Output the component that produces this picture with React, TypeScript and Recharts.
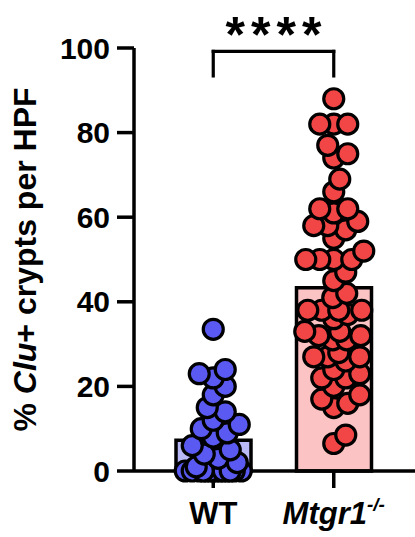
import React from 'react';
import { ComposedChart, Bar, Scatter, XAxis, YAxis, ReferenceLine, Cell } from 'recharts';

// values (% Clu+ crypts per HPF)
const groups = ['WT', 'Mtgr1'];
const wtValues = [
  33.5, 24, 23, 22, 20, 18, 15, 14, 12, 11, 10, 9, 8, 6, 5, 4, 3, 2, 1,
  0, 0, 0, 0, 0, 0, 0, 0, 0, 0, 0, 0, 0, 0,
];
const mtgr1Values = [
  88, 82, 82, 82, 77, 75, 74, 69, 66, 62, 62, 61, 59, 58, 58, 57, 55, 52,
  50, 50, 50, 50, 47, 45, 41, 42, 38, 38, 36, 38, 38, 37, 33, 32, 31, 33,
  32, 31, 27, 27, 28, 27, 26, 24, 23, 22, 22, 20, 18, 17, 16, 15, 8.5, 6.5,
];
const yTicks = [0, 20, 40, 60, 80, 100];
const significance = { label: '****', from: 1, to: 2, top: 99.2, leg: 93.4 };

const FONT = '"Liberation Sans", Arial, sans-serif';
const CHART_W = 415;
const CHART_H = 537;
const MARGIN = { top: 48, right: 0, bottom: 0, left: 0 };
const Y_AXIS_W = 134;
const X_AXIS_H = 66;
const X_PAD = { left: 19, right: 21 };
const PLOT_W = CHART_W - Y_AXIS_W;
const PLOT_H = CHART_H - MARGIN.top - X_AXIS_H;
const BAND_PX = (PLOT_W - X_PAD.left - X_PAD.right) / 2;
const Y_PX = PLOT_H / 100;
const MIN_DIST = 14;
const MAX_OFF = 30;

const mean = (v: number[]) => v.reduce((a, b) => a + b, 0) / v.length;

const barData = [
  { group: groups[0], mean: mean(wtValues) },
  { group: groups[1], mean: mean(mtgr1Values) },
];

// simple beeswarm: push each point sideways until it clears the ones already placed
function swarm(values: number[], pos: number) {
  const placed: { dx: number; py: number }[] = [];
  return [...values].sort((a, b) => a - b).map((v) => {
    const py = v * Y_PX;
    let best = 0;
    let bestD = -1;
    for (let s = 0; s <= MAX_OFF; s++) {
      for (const dx of s === 0 ? [0] : [s, -s]) {
        let d = Infinity;
        for (const p of placed) d = Math.min(d, Math.hypot(p.dx - dx, p.py - py));
        if (d > bestD) {
          bestD = d;
          best = dx;
        }
      }
      if (bestD >= MIN_DIST) break;
    }
    placed.push({ dx: best, py });
    return { x: pos + best / BAND_PX, y: v };
  });
}

const wtPoints = swarm(wtValues, 1);
const mtgr1Points = swarm(mtgr1Values, 2);

const Dot = (fill: string) => (props: any) => (
  <circle cx={props.cx} cy={props.cy} r={10} fill={fill} stroke="#000" strokeWidth={3.2} />
);

const XTick = ({ x, y, payload }: any) => {
  if (payload.value === 'WT') {
    return (
      <text x={x} y={y + 34} textAnchor="middle" fontFamily={FONT} fontWeight="bold" fontSize={31} fill="#000">
        WT
      </text>
    );
  }
  return (
    <text x={x} y={y + 34} textAnchor="middle" fontFamily={FONT} fontWeight="bold" fontStyle="italic" fontSize={31} fill="#000">
      Mtgr1
      <tspan fontSize={19} dy={-13}>-/-</tspan>
    </text>
  );
};

const YLabel = ({ viewBox }: any) => {
  const cx = viewBox.x + 36;
  const cy = viewBox.y + viewBox.height / 2;
  return (
    <text
      x={cx}
      y={cy}
      transform={`rotate(-90 ${cx} ${cy})`}
      textAnchor="middle"
      fontFamily={FONT}
      fontWeight="bold"
      fontSize={32}
      fill="#000"
    >
      {'% '}
      <tspan fontStyle="italic">Clu</tspan>
      {'+ crypts per HPF'}
    </text>
  );
};

const Stars = ({ viewBox }: any) => (
  <text
    x={viewBox.x + viewBox.width / 2 + 3}
    y={viewBox.y + 1}
    textAnchor="middle"
    fontFamily={FONT}
    fontWeight="bold"
    fontSize={50}
    letterSpacing={6}
    fill="#000"
  >
    {significance.label}
  </text>
);

export default function App() {
  return (
    <div style={{ position: 'absolute', left: 0, top: 0, fontFamily: FONT }}>
      <ComposedChart width={CHART_W} height={CHART_H} data={barData} margin={MARGIN}>
        <XAxis
          xAxisId="cat"
          dataKey="group"
          height={X_AXIS_H}
          padding={X_PAD}
          tickSize={17}
          tick={<XTick />}
          axisLine={{ stroke: '#000', strokeWidth: 3.5 }}
          tickLine={{ stroke: '#000', strokeWidth: 3.5 }}
          interval={0}
        />
        <XAxis xAxisId="num" dataKey="x" type="number" domain={[0.5, 2.5]} padding={X_PAD} allowDataOverflow hide />
        <YAxis
          type="number"
          domain={[0, 100]}
          ticks={yTicks}
          width={Y_AXIS_W}
          tickSize={17}
          tickMargin={7}
          tick={{ fill: '#000', fontSize: 30, fontWeight: 'bold', fontFamily: FONT }}
          axisLine={{ stroke: '#000', strokeWidth: 3.5 }}
          tickLine={{ stroke: '#000', strokeWidth: 3.5 }}
          label={(props: any) => <YLabel {...props} />}
        />
        <Bar xAxisId="cat" dataKey="mean" barSize={75} stroke="#000" strokeWidth={3.5} isAnimationActive={false}>
          <Cell fill="#b9b9f8" />
          <Cell fill="#fbc3c3" />
        </Bar>
        <Scatter xAxisId="num" data={wtPoints} dataKey="y" shape={Dot('#5a5af2')} isAnimationActive={false} />
        <Scatter xAxisId="num" data={mtgr1Points} dataKey="y" shape={Dot('#f24646')} isAnimationActive={false} />
        <ReferenceLine
          xAxisId="num"
          segment={[{ x: significance.from, y: significance.top }, { x: significance.to, y: significance.top }]}
          stroke="#000"
          strokeWidth={3.2}
          strokeLinecap="square"
          ifOverflow="visible"
          label={(props: any) => <Stars {...props} />}
        />
        <ReferenceLine
          xAxisId="num"
          segment={[{ x: significance.from, y: significance.top }, { x: significance.from, y: significance.leg }]}
          stroke="#000"
          strokeWidth={3.2}
          strokeLinecap="square"
          ifOverflow="visible"
        />
        <ReferenceLine
          xAxisId="num"
          segment={[{ x: significance.to, y: significance.top }, { x: significance.to, y: significance.leg }]}
          stroke="#000"
          strokeWidth={3.2}
          strokeLinecap="square"
          ifOverflow="visible"
        />
      </ComposedChart>
    </div>
  );
}
